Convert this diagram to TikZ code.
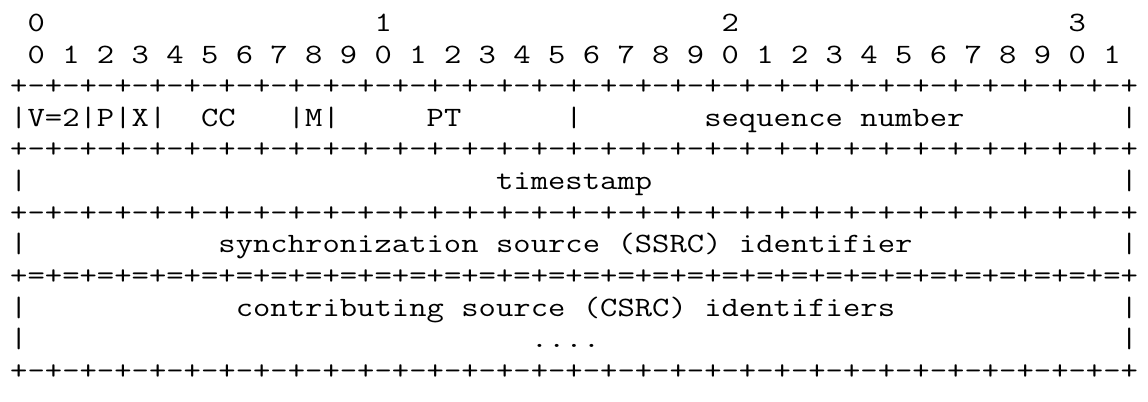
\documentclass[tikz,border=0pt]{standalone}
\usepackage{graphicx}
% one character cell of the header drawing
\newlength\cellw
\setlength\cellw{8.675pt}
\newcommand\asciifont{\ttfamily\fontsize{14}{16}\selectfont}
\def\fixedtext#1{\fixedloop#1\relax}
\def\fixedloop#1{\ifx#1\relax\else\hbox to\cellw{\hss\scalebox{1.2}[1]{#1}\hss}\expandafter\fixedloop\fi}
\begin{document}
\begin{tikzpicture}[x=8.675pt, y=-15.8pt,
    chars/.style={inner sep=0pt, anchor=base west, font=\asciifont}]
    \useasboundingbox (-1.066,0) rectangle (65.10,12.69);

    % bit numbers on top
    \foreach \d in {0,...,3}
        \node[chars] (tens\d) at ({20*\d+0.5},1) {\fixedtext{\d}};
    \foreach \b in {0,...,31} {
        \pgfmathtruncatemacro\u{mod(\b,10)}
        \node[chars] (bit\b) at ({2*\b+0.5},2) {\fixedtext{\u}};
    }

    % separator rows  +-+-  and  +=+=
    \foreach \r in {3,5,7,9,12}
      \foreach \c in {0,...,64} {
        \pgfmathtruncatemacro\odd{mod(\c,2)}
        \node[chars] (sep\r-\c) at (\c-0.5,\r)
            {\ifnum\odd=0 \fixedtext{+}\else\ifnum\r=9 \fixedtext{=}\else\fixedtext{-}\fi\fi};
      }

    % side bars
    \foreach \r in {4,6,8,10,11}
      \foreach \c in {0,64}
        \node[chars] (bar\r-\c) at (\c-0.5,\r) {\fixedtext{|}};
    \foreach \c in {4,6,8,16,18,32}
        \node[chars] (bar4-\c) at (\c-0.5,4) {\fixedtext{|}};

    % field names
    \node[chars] (version) at (0.5,4) {\fixedtext{V=2}};
    \node[chars] (padding) at (4.5,4) {\fixedtext{P}};
    \node[chars] (extension) at (6.5,4) {\fixedtext{X}};
    \node[chars] (csrccount) at (10.5,4) {\fixedtext{CC}};
    \node[chars] (marker) at (16.5,4) {\fixedtext{M}};
    \node[chars] (ptype) at (23.5,4) {\fixedtext{PT}};
    \node[chars] (seqnum) at (39.5,4) {\fixedtext{sequence~number}};
    \node[chars] (tstamp) at (27.5,6) {\fixedtext{timestamp}};
    \node[chars] (ssrc) at (11.5,8) {\fixedtext{synchronization~source~(SSRC)~identifier}};
    \node[chars] (csrc) at (12.5,10) {\fixedtext{contributing~source~(CSRC)~identifiers}};
    \node[chars] (more) at (29.5,11) {\fixedtext{....}};
\end{tikzpicture}
\end{document}
